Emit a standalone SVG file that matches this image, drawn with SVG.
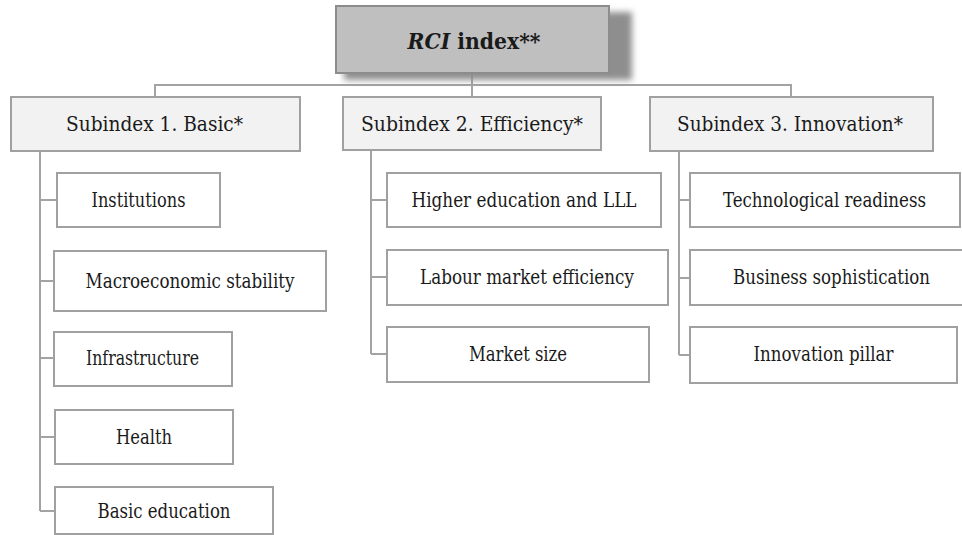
<svg xmlns="http://www.w3.org/2000/svg" width="962" height="535" viewBox="0 0 962 535">
  <defs>
    <filter id="soft" x="-20%" y="-30%" width="140%" height="160%">
      <feGaussianBlur stdDeviation="3"/>
    </filter>
    <style>
      .link { fill: none; stroke: #a3a3a3; stroke-width: 2; }
      .root { fill: #bfbfbf; stroke: #8c8c8c; stroke-width: 2; }
      .shadow { fill: #8e8e8e; filter: url(#soft); }
      .sub { fill: #f2f2f2; stroke: #a0a0a0; stroke-width: 2; }
      .leaf { fill: #ffffff; stroke: #a0a0a0; stroke-width: 2; }
      .tRoot { font-size: 21.5px; font-weight: bold; }
      .tSub { font-size: 21px; }
      .tLeaf { font-size: 19.5px; }
    </style>
  </defs>
  <rect width="962" height="535" fill="#ffffff"/>

  <!-- connectors -->
  <g id="connectors">
    <path class="link" d="M472 73 V85 M155 97 V85 H791 V97 M472 85 V97"/>
    <path class="link" d="M40 151 V511 M40 200 H57 M40 281 H54 M40 358 H54 M40 437 H55 M40 511 H55"/>
    <path class="link" d="M371 150 V354 M371 200 H387 M371 277 H387 M371 354 H387"/>
    <path class="link" d="M679 151 V355 M679 200 H690 M679 278 H690 M679 355 H690"/>
  </g>

  <g font-family="'DejaVu Serif', 'Liberation Serif', serif" font-stretch="condensed" fill="#1a1a1a" text-anchor="middle" lengthAdjust="spacingAndGlyphs">
    <!-- top level -->
    <g id="rci-index">
      <rect class="shadow" x="344" y="12" width="288" height="68"/>
      <rect class="root" x="336" y="6" width="273" height="67"/>
      <text class="tRoot" x="474" y="49" textLength="133" lengthAdjust="spacingAndGlyphs"><tspan font-style="italic">RCI</tspan> index**</text>
    </g>

    <!-- subindices -->
    <g id="subindex-1">
      <rect class="sub" x="11" y="97" width="289" height="54"/>
      <text class="tSub" x="154.5" y="131" textLength="177" lengthAdjust="spacingAndGlyphs">Subindex 1. Basic*</text>
    </g>
    <g id="subindex-2">
      <rect class="sub" x="343" y="97" width="258" height="53"/>
      <text class="tSub" x="472" y="131" textLength="222" lengthAdjust="spacingAndGlyphs">Subindex 2. Efficiency*</text>
    </g>
    <g id="subindex-3">
      <rect class="sub" x="650" y="97" width="283" height="54"/>
      <text class="tSub" x="790" y="131" textLength="226" lengthAdjust="spacingAndGlyphs">Subindex 3. Innovation*</text>
    </g>

    <!-- pillars of subindex 1 -->
    <g id="institutions">
      <rect class="leaf" x="57" y="173" width="163" height="54"/>
      <text class="tLeaf" x="138.5" y="207" textLength="94" lengthAdjust="spacingAndGlyphs">Institutions</text>
    </g>
    <g id="macroeconomic-stability">
      <rect class="leaf" x="54" y="251" width="272" height="60"/>
      <text class="tLeaf" x="190" y="288" textLength="209" lengthAdjust="spacingAndGlyphs">Macroeconomic stability</text>
    </g>
    <g id="infrastructure">
      <rect class="leaf" x="54" y="332" width="178" height="54"/>
      <text class="tLeaf" x="142.5" y="365" textLength="113" lengthAdjust="spacingAndGlyphs">Infrastructure</text>
    </g>
    <g id="health">
      <rect class="leaf" x="55" y="410" width="178" height="54"/>
      <text class="tLeaf" x="144" y="444" textLength="56" lengthAdjust="spacingAndGlyphs">Health</text>
    </g>
    <g id="basic-education">
      <rect class="leaf" x="55" y="487" width="218" height="47"/>
      <text class="tLeaf" x="164" y="518" textLength="133" lengthAdjust="spacingAndGlyphs">Basic education</text>
    </g>

    <!-- pillars of subindex 2 -->
    <g id="higher-education">
      <rect class="leaf" x="387" y="173" width="274" height="54"/>
      <text class="tLeaf" x="524" y="207" textLength="225" lengthAdjust="spacingAndGlyphs">Higher education and LLL</text>
    </g>
    <g id="labour-market">
      <rect class="leaf" x="387" y="250" width="281" height="55"/>
      <text class="tLeaf" x="527" y="284" textLength="214" lengthAdjust="spacingAndGlyphs">Labour market efficiency</text>
    </g>
    <g id="market-size">
      <rect class="leaf" x="387" y="327" width="262" height="55"/>
      <text class="tLeaf" x="518" y="361" textLength="98" lengthAdjust="spacingAndGlyphs">Market size</text>
    </g>

    <!-- pillars of subindex 3 -->
    <g id="technological-readiness">
      <rect class="leaf" x="690" y="173" width="270" height="54"/>
      <text class="tLeaf" x="824.5" y="207" textLength="203" lengthAdjust="spacingAndGlyphs">Technological readiness</text>
    </g>
    <g id="business-sophistication">
      <rect class="leaf" x="690" y="250" width="283" height="55"/>
      <text class="tLeaf" x="831.5" y="284" textLength="197" lengthAdjust="spacingAndGlyphs">Business sophistication</text>
    </g>
    <g id="innovation-pillar">
      <rect class="leaf" x="690" y="327" width="267" height="56"/>
      <text class="tLeaf" x="823.5" y="361" textLength="140" lengthAdjust="spacingAndGlyphs">Innovation pillar</text>
    </g>
  </g>
</svg>
